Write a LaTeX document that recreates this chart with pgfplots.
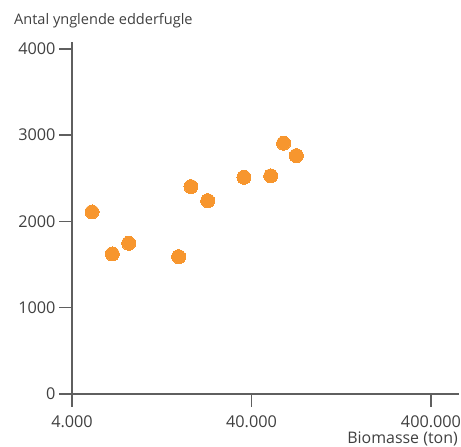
\documentclass[border=0pt]{standalone}
\usepackage{pgfplots}
\pgfplotsset{compat=1.18}
\usepackage{fontspec}
\setmainfont{Open Sans}
\definecolor{dot}{RGB}{247,150,46}
\definecolor{txt}{RGB}{64,64,64}
\definecolor{axc}{RGB}{95,95,95}
\begin{document}
\begin{tikzpicture}
\begin{axis}[name=ax, scale only axis, width=387bp, height=352bp,
  xmode=log, log basis x=10,
  xmin=4000, xmax=573000, ymin=0, ymax=4080,
  axis lines*=left,
  axis line style={draw=none},
  xtick={4000,40000,400000}, xticklabels={4.000,40.000,400.000},
  ytick={0,1000,2000,3000,4000},
  minor xtick={}, minor x tick num=0,
  tick align=outside, major tick length=13bp,
  tick style={axc, line width=1.4bp},
  every tick label/.append style={font=\fontsize{16.3}{18}\selectfont, text=txt},
  xticklabel style={yshift=-5bp},
  /pgf/number format/assume math mode=true,
  /pgf/number format/1000 sep={},
  clip=false,
]
\draw[axc, line width=1.4bp] (axis cs:3430,0) -- (axis cs:573000,0);
\draw[axc, line width=1.4bp] (axis cs:4000,-70) -- (axis cs:4000,4080);
\addplot[only marks, color=dot, mark=*, mark size=7bp, mark options={draw=dot, fill=dot, line width=0pt}] coordinates {
(5170,2110) (6710,1623) (8280,1747) (15710,1592) (18400,2404)
(22800,2241) (36300,2512) (51200,2528) (60400,2907) (71100,2763)
};
\end{axis}
\node[anchor=base west, font=\fontsize{14.6}{17}\selectfont, text=txt, inner sep=0pt] at ([shift={(-58bp,369bp)}]ax.south west) {Antal ynglende edderfugle};
\node[anchor=base east, font=\fontsize{16}{18}\selectfont, text=txt, inner sep=0pt] at ([shift={(386bp,-49bp)}]ax.south west) {Biomasse (ton)};
\pgfresetboundingbox
\path ([shift={(-72bp,-53bp)}]ax.south west) rectangle ++(461bp,447bp);
\end{tikzpicture}
\end{document}
